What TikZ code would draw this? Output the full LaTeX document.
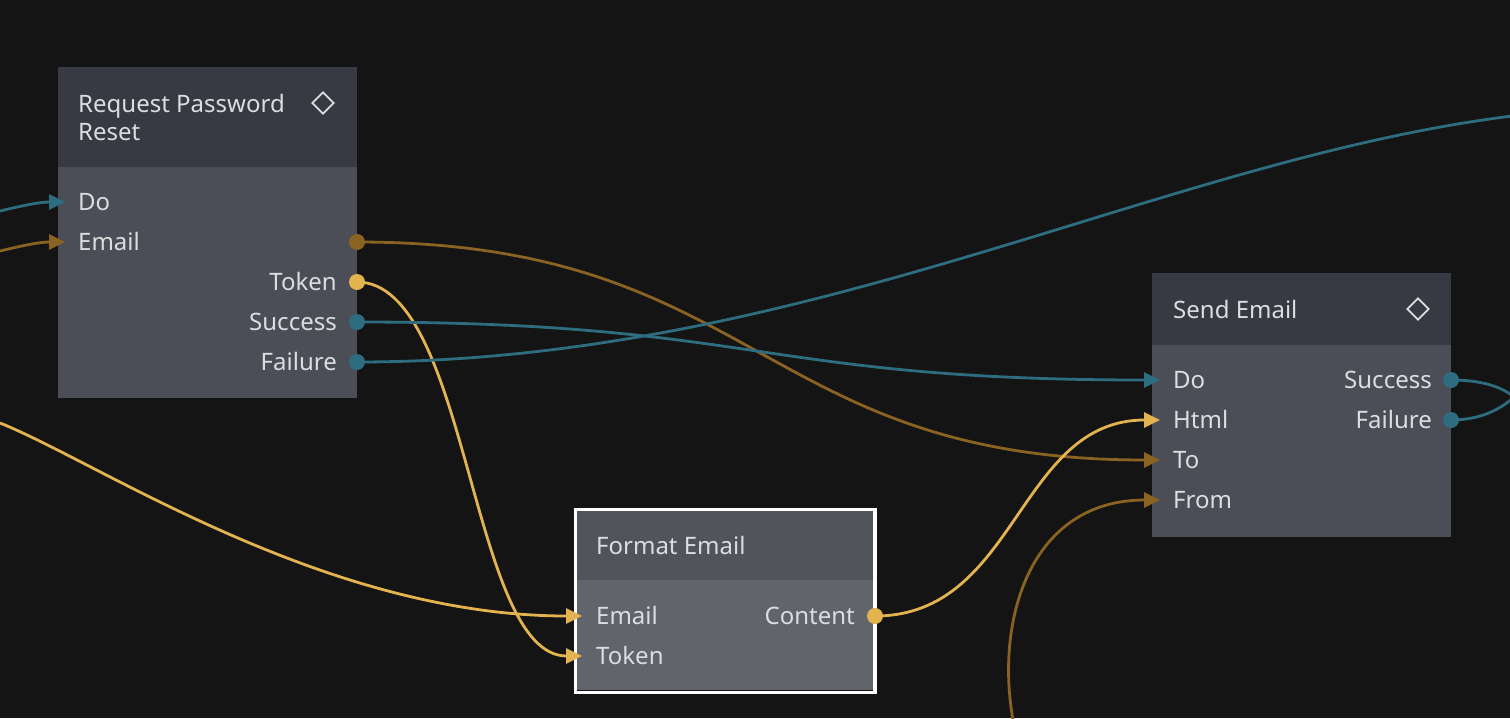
\documentclass[tikz,border=0pt]{standalone}
\usepackage{fontspec}
\setmainfont{Noto Sans}
\usetikzlibrary{arrows.meta, shapes.geometric, calc, positioning}
\definecolor{canvas}{HTML}{141414}
\definecolor{headDark}{HTML}{383A43}
\definecolor{bodyDark}{HTML}{4C4E57}
\definecolor{headSel}{HTML}{52545C}
\definecolor{bodySel}{HTML}{62646C}
\definecolor{flowTeal}{HTML}{2E6C80}
\definecolor{dataGold}{HTML}{E2B34E}
\definecolor{dataDark}{HTML}{8A6322}
\definecolor{labelGray}{HTML}{DDDDE0}

\begin{document}
\begin{tikzpicture}[x=1pt, y=-1pt, font=\fontsize{24}{28}\selectfont,
    panel/.style={anchor=north west, inner sep=0pt, outer sep=0pt, minimum width=299pt},
    lbl/.style={text=labelGray, inner sep=0pt, anchor=base west},
    rlbl/.style={text=labelGray, inner sep=0pt, anchor=base east},
    icon/.style={diamond, draw=labelGray, line width=1.8pt, inner sep=0pt, minimum width=22pt, minimum height=22pt},
    dot/.style={circle, inner sep=0pt, minimum size=16pt},
    link/.style={line width=2.8pt},
    feed/.style={link, -{Triangle[length=16pt, width=15pt]}},
    wire/.style={to path={let \p1=(\tikztostart), \p2=(\tikztotarget) in
        .. controls ({(\x1+\x2)/2},\y1) and ({(\x1+\x2)/2},\y2) .. (\tikztotarget)}}
]
    \fill[canvas] (0,0) rectangle (1510,718);
    \useasboundingbox (0,0) rectangle (1510,718);
    \clip (0,0) rectangle (1510,718);

    % node boxes
    \node[panel, fill=headDark, minimum height=100pt] (rqHead) at (58,67) {};
    \node[panel, fill=bodyDark, minimum height=231pt] (rqBody) at (58,167) {};
    \node[panel, fill=headDark, minimum height=72pt] (seHead) at (1152,273) {};
    \node[panel, fill=bodyDark, minimum height=192pt] (seBody) at (1152,345) {};
    \node[panel, fill=headSel, minimum width=296pt, minimum height=69pt] (feHead) at (577,511) {};
    \node[panel, fill=bodySel, minimum width=296pt, minimum height=110pt] (feBody) at (577,580) {};
    \node[draw=white, line width=3.5pt, inner sep=0pt, minimum width=299.5pt, minimum height=183pt] (feFrame) at (725,600.75) {};

    % ports
    \coordinate (rqDo) at (65,202);
    \coordinate (rqEmail) at (65,242);
    \coordinate (seDo) at (1160,380);
    \coordinate (seHtml) at (1160,420);
    \coordinate (seTo) at (1160,460);
    \coordinate (seFrom) at (1160,500);
    \coordinate (feEmail) at (582,616);
    \coordinate (feToken) at (582,656);
    \node[dot] (rqEmailOut) at (357,242) {};
    \node[dot] (rqToken) at (357,282) {};
    \node[dot] (rqSuccess) at (357,322) {};
    \node[dot] (rqFailure) at (357,362) {};
    \node[dot] (seSuccess) at (1451,380) {};
    \node[dot] (seFailure) at (1451,420) {};
    \node[dot] (feContent) at (875,616) {};

    % free ends
    \coordinate (lfDo) at (0,211);
    \coordinate (lfEmail) at (0,251);
    \coordinate (lfFmt) at (0,423);
    \coordinate (btFrom) at (1013,720);
    \coordinate (rtFail) at (1512,116);
    \coordinate (rtLoop) at (1514,397);

    % connectors
    \draw[feed, flowTeal] (lfDo) .. controls (25,205) and (40,202) .. (rqDo);
    \draw[feed, dataDark] (lfEmail) .. controls (25,245) and (40,242) .. (rqEmail);
    \draw[feed, dataGold] (lfFmt) .. controls (100,463) and (324,616) .. (feEmail);
    \draw[feed, dataDark] (rqEmailOut.center) to[wire] (seTo);
    \draw[feed, dataGold] (rqToken.center) to[wire] (feToken);
    \draw[feed, flowTeal] (rqSuccess.center) to[wire] (seDo);
    \draw[link, flowTeal] (rqFailure.center) .. controls (807,362) and (1160,160) .. (rtFail);
    \draw[feed, dataGold] (feContent.center) to[wire] (seHtml);
    \draw[feed, dataDark] (btFrom) .. controls (995,620) and (1030,500) .. (seFrom);
    \draw[link, flowTeal] (seSuccess.center) .. controls (1482,380) and (1502,387) .. (rtLoop);
    \draw[link, flowTeal] (seFailure.center) .. controls (1482,420) and (1502,408) .. (rtLoop);

    % port dots on top
    \fill[dataDark] (rqEmailOut) circle (8);
    \fill[dataGold] (rqToken) circle (8);
    \fill[flowTeal] (rqSuccess) circle (8);
    \fill[flowTeal] (rqFailure) circle (8);
    \fill[flowTeal] (seSuccess) circle (8);
    \fill[flowTeal] (seFailure) circle (8);
    \fill[dataGold] (feContent) circle (8);

    % titles
    \node[lbl] (rqTitle) at (78,112) {Request Password};
    \node[lbl] (rqTitleB) at (78,140) {Reset};
    \node[icon] (rqIcon) at (323,103) {};
    \node[lbl] (seTitle) at (1173,318) {Send Email};
    \node[icon] (seIcon) at (1418,309) {};
    \node[lbl] (feTitle) at (596,554) {Format Email};

    % port labels
    \node[lbl] (rqDoLbl) at (78,210) {Do};
    \node[lbl] (rqEmailLbl) at (78,250) {Email};
    \node[rlbl] (rqTokenLbl) at (337,290) {Token};
    \node[rlbl] (rqSuccessLbl) at (337,330) {Success};
    \node[rlbl] (rqFailureLbl) at (337,370) {Failure};
    \node[lbl] (seDoLbl) at (1173,388) {Do};
    \node[lbl] (seHtmlLbl) at (1173,428) {Html};
    \node[lbl] (seToLbl) at (1173,468) {To};
    \node[lbl] (seFromLbl) at (1173,508) {From};
    \node[rlbl] (seSuccessLbl) at (1432,388) {Success};
    \node[rlbl] (seFailureLbl) at (1432,428) {Failure};
    \node[lbl] (feEmailLbl) at (596,624) {Email};
    \node[lbl] (feTokenLbl) at (596,664) {Token};
    \node[rlbl] (feContentLbl) at (855,624) {Content};
\end{tikzpicture}
\end{document}
